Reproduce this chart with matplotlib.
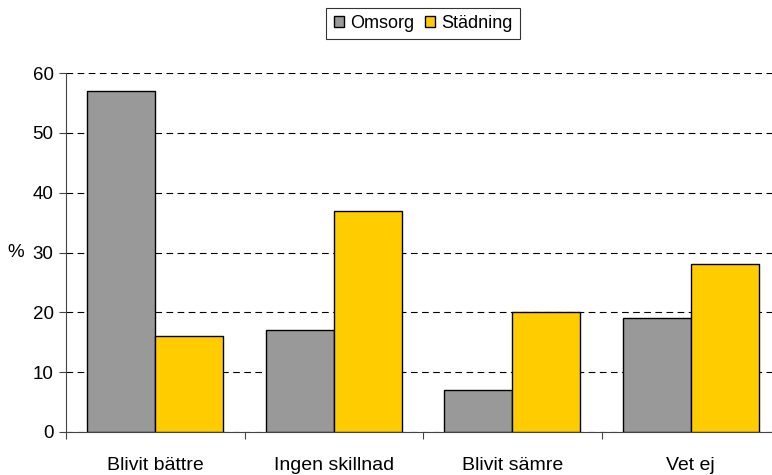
import numpy as np
import matplotlib.pyplot as plt

plt.rcParams['font.family'] = ['Liberation Sans', 'DejaVu Sans']

categories = ['Blivit bättre', 'Ingen skillnad', 'Blivit sämre', 'Vet ej']
omsorg = [57, 17, 7, 19]
stadning = [16, 37, 20, 28]

fig = plt.figure(figsize=(7.72, 4.75), dpi=100, facecolor='white')
ax = fig.add_axes([66 / 772, 43 / 475, 714 / 772, 359 / 475])

x = np.arange(len(categories))
w = 0.38
ax.bar(x - w / 2, omsorg, w, color='#999999', edgecolor='black', linewidth=1, label='Omsorg', zorder=3)
ax.bar(x + w / 2, stadning, w, color='#ffcc00', edgecolor='black', linewidth=1, label='Städning', zorder=3)

ax.set_xlim(-0.5, len(categories) - 0.5)
ax.set_ylim(0, 60)
ax.set_yticks(range(0, 61, 10))
ax.yaxis.grid(True, linestyle=(0, (6, 4)), color='black', linewidth=0.8, zorder=0)

ax.set_xticks(np.arange(-0.5, len(categories), 1.0))
ax.set_xticklabels([])
ax.set_xticks(x, minor=True)
ax.set_xticklabels(categories, minor=True, fontsize=14)
ax.tick_params(axis='x', which='minor', length=0, pad=18)
ax.tick_params(axis='x', which='major', length=5, direction='out', color='#444444')
ax.tick_params(axis='y', length=5, direction='out', labelsize=13.5, color='#444444', pad=4)

for s in ['top', 'right']:
    ax.spines[s].set_visible(False)
ax.spines['left'].set_color('#444444')
ax.spines['bottom'].set_color('#444444')

ax.set_ylabel('%', rotation=0, fontsize=13.5, va='center', ha='center')
ax.yaxis.set_label_coords(-0.07, 0.5)

leg = ax.legend(loc='upper center', bbox_to_anchor=(0.5, 1.181), ncol=2, fontsize=13,
                frameon=True, fancybox=False, edgecolor='black', handlelength=0.55,
                handleheight=0.55, handletextpad=0.35, columnspacing=0.6, borderpad=0.4,
                borderaxespad=0)
leg.get_frame().set_linewidth(0.8)

fig.savefig('out.png', dpi=100)
